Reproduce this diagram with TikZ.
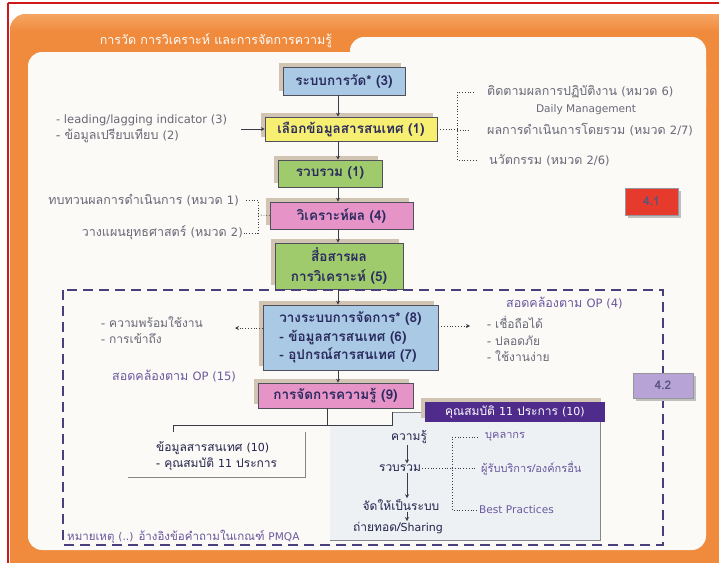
\documentclass[tikz,border=0pt]{standalone}
\usepackage{fontspec}
\setmainfont[Script=Thai]{Loma}
\newfontfamily\latinfont[Scale=0.92]{DejaVu Sans}
\newcommand{\enf}[1]{{\latinfont #1}}
\usetikzlibrary{arrows.meta,shadows,calc}

\definecolor{frameor}{HTML}{F08A3C}
\definecolor{frametop}{HTML}{F5A562}
\definecolor{panelbg}{HTML}{FCFAF6}
\definecolor{redline}{HTML}{D01818}
\definecolor{cblue}{HTML}{A9C9E4}
\definecolor{cyellow}{HTML}{F6EF72}
\definecolor{cgreen}{HTML}{9FCB6C}
\definecolor{cpink}{HTML}{E694C8}
\definecolor{cpurple}{HTML}{4F2C8C}
\definecolor{clav}{HTML}{B8A3D6}
\definecolor{cred}{HTML}{E63B2C}
\definecolor{boxline}{HTML}{50505A}
\definecolor{boxtext}{HTML}{2A2A5E}
\definecolor{shadowc}{HTML}{D2C4B2}
\definecolor{labelc}{HTML}{686878}
\definecolor{oplabel}{HTML}{6A58A0}
\definecolor{dashc}{HTML}{4A3E7C}
\definecolor{linec}{HTML}{3C3C46}
\definecolor{greypanel}{HTML}{EEF1F4}

\begin{document}
\begin{tikzpicture}[x=1pt,y=-1pt,
  box/.style={draw=boxline, line width=0.6pt, text=boxtext,
    font=\bfseries\fontsize{13.5}{18.5}\selectfont, inner sep=2pt,
    drop shadow={shadow xshift=-4pt, shadow yshift=4pt, fill=shadowc, opacity=1}},
  label/.style={text=labelc, font=\fontsize{12.5}{15.5}\selectfont, inner sep=1pt},
  small/.style={text=labelc, font=\fontsize{12}{16.5}\selectfont, inner sep=1pt},
  oplab/.style={text=oplabel, font=\fontsize{12.5}{15}\selectfont, inner sep=1pt},
  panlab/.style={text=oplabel, font=\fontsize{11}{12}\selectfont, inner sep=1pt},
  colt/.style={text=boxtext!80!black, font=\fontsize{12}{15}\selectfont, inner sep=1pt},
  tag/.style={draw=boxline!60, line width=0.4pt, text=boxtext!80,
    font=\bfseries\fontsize{12}{14}\selectfont,
    drop shadow={shadow xshift=3pt, shadow yshift=-3pt, fill=black!25, opacity=1}},
  flow/.style={draw=linec, line width=0.7pt, -{Stealth[length=4pt,width=4pt]}},
  dotl/.style={draw=linec, line width=0.8pt, dotted},
  dotarr/.style={draw=linec, line width=0.8pt, dotted, -{Stealth[length=4pt,width=4pt]}},
  dashbox/.style={draw=dashc, line width=2.2pt, dash pattern=on 10pt off 6pt},
]
\useasboundingbox (0,0) rectangle (719,562);

% ---- frame ----
\fill[white] (0,0) rectangle (719,562);
\begin{scope}
  \clip[rounded corners=16pt] (10,14) rectangle (740,580);
  \fill[frameor] (10,14) rectangle (740,580);
  \shade[top color=frametop, bottom color=frameor] (10,14) rectangle (719,32);
\end{scope}
\fill[panelbg, rounded corners=14pt] (28,52) rectangle (706,550);
\fill[panelbg, rounded corners=14pt] (350,37) rectangle (706,120);
\draw[redline, line width=1.6pt] (8,3) -- (730,3) (8,3) -- (8,570);
\node[text=white, font=\fontsize{12.5}{14}\selectfont] (title) at (216,41) {การวัด การวิเคราะห์ และการจัดการความรู้};

% ---- upper flow ----
\coordinate (spine) at (338,0);
\node[box, fill=cblue, minimum width=122pt, minimum height=28pt] (meas) at (344,81) {ระบบการวัด* (3)};
\node[box, fill=cyellow, minimum width=172pt, minimum height=24pt] (sel) at (351,129) {เลือกข้อมูลสารสนเทศ (1)};
\node[box, fill=cgreen, minimum width=104pt, minimum height=27pt] (gath) at (330,173.5) {รวบรวม (1)};
\node[box, fill=cpink, minimum width=143pt, minimum height=27pt] (anal) at (341.5,215.5) {วิเคราะห์ผล (4)};
\node[box, fill=cgreen, minimum width=128pt, minimum height=46pt, align=center, font=\bfseries\fontsize{13.5}{20}\selectfont] (comm) at (339,266) {สื่อสารผล\\การวิเคราะห์ (5)};

\draw[flow] (meas.south -| spine) -- (sel.north -| spine);
\draw[flow] (sel.south -| spine) -- (gath.north -| spine);
\draw[flow] (gath.south -| spine) -- (anal.north -| spine);
\draw[flow] (anal.south -| spine) -- (comm.north -| spine);

% inputs to the selection step
\node[label, anchor=west, align=left] (lead) at (55,129) {\enf{- leading/lagging indicator (3)}\\- ข้อมูลเปรียบเทียบ \enf{(2)}};
\draw[flow] ([xshift=13pt]lead.east |- sel.west) -- (sel.west);

% outputs of the selection step
\coordinate (brA) at (457,129);
\node[label, anchor=west] (r1) at (486,92) {ติดตามผลการปฏิบัติงาน \enf{(}หมวด \enf{6)}};
\node[label, font=\fontsize{11.5}{13}\selectfont] (r1b) at (586,110) {\enf{Daily Management}};
\node[label, anchor=west] (r2) at (486,130) {ผลการดำเนินการโดยรวม \enf{(}หมวด \enf{2/7)}};
\node[label, anchor=west] (r3) at (488,160) {นวัตกรรม \enf{(}หมวด \enf{2/6)}};
\draw[dotl] (sel.east) -- (brA);
\draw[dotl] ([xshift=-12pt]r1.west) -- (brA |- r1.west) -- (brA |- r3.west) -- ([xshift=-12pt]r3.west);
\draw[dotl] (brA |- r2.west) -- ([xshift=-16pt]r2.west);

% inputs to the analysis step
\coordinate (brB) at (258,215);
\node[label, anchor=east] (l1) at (240,200) {ทบทวนผลการดำเนินการ \enf{(}หมวด \enf{1)}};
\node[label, anchor=east] (l2) at (244,233) {วางแผนยุทธศาสตร์ \enf{(}หมวด \enf{2)}};
\draw[dotl] ([xshift=6pt]l1.east) -- (brB |- l1.east) -- (brB |- l2.east) -- (l2.east);
\draw[dotl] (brB) -- (anal.west);

\node[tag, fill=cred, minimum width=53pt, minimum height=27pt] (t41) at (651.5,201.5) {4.1};

% ---- lower block ----
\draw[dashbox] (63,290) rectangle (663,545);

\node[box, fill=cblue, minimum width=175pt, minimum height=65pt, align=left] (plan) at (350.5,337.5)
  {วางระบบการจัดการ* (8)\\- ข้อมูลสารสนเทศ (6)\\- อุปกรณ์สารสนเทศ (7)};
\node[box, fill=cpink, minimum width=155pt, minimum height=25pt] (km) at (335.5,395.5) {การจัดการความรู้ (9)};
\draw[flow] (comm.south -| spine) -- (plan.north -| spine);
\draw[flow] (plan.south -| spine) -- (km.north -| spine);

\node[small, anchor=west, align=left] (avail) at (100,330) {- ความพร้อมใช้งาน\\- การเข้าถึง};
\coordinate (availtip) at (235,328);
\node[oplab, anchor=west] (op15) at (111,376) {สอดคล้องตาม \enf{OP (15)}};
\draw[dotarr] (plan.west |- availtip) -- (availtip);

\node[oplab, anchor=west] (op4) at (505,303) {สอดคล้องตาม \enf{OP (4)}};
\node[small, anchor=west, align=left] (rel) at (486,339) {- เชื่อถือได้\\- ปลอดภัย\\- ใช้งานง่าย};
\coordinate (reltip) at (470,326);
\draw[dotarr] (plan.east |- reltip) -- (reltip);

\node[tag, fill=clav, minimum width=60pt, minimum height=25pt] (t42) at (663,385.5) {4.2};

% knowledge panel
\fill[greypanel] (330,425) rectangle (600,540);
\fill[greypanel] (392,412) rectangle (600,425);
\draw[boxline!70, line width=0.6pt] (392,412) -- (600,412) -- (600,540) -- (330,540);
\node[fill=cpurple, text=white, font=\fontsize{12}{14}\selectfont, minimum width=180pt, minimum height=20pt,
  drop shadow={shadow xshift=-4pt, shadow yshift=4pt, fill=shadowc, opacity=1}] (q11) at (515,412) {คุณสมบัติ \enf{11} ประการ \enf{(10)}};

\node[colt, anchor=north west, align=left, minimum width=177pt, minimum height=45pt, inner sep=3pt, text depth=0pt,
  font=\fontsize{12}{16}\selectfont] (d10) at (128,432)
  {ข้อมูลสารสนเทศ \enf{(10)}\\- คุณสมบัติ \enf{11} ประการ};
\draw[boxline!70, line width=0.6pt] (d10.north east) -- (d10.south east) -- (d10.south west);

\coordinate (tree) at (327,425);
\draw[linec, line width=0.6pt] (km.south -| tree) -- (tree);
\draw[linec, line width=0.6pt] (d10.north -| 173,0) -- (173,425) -- (392,425) -- (392,412);

\node[colt] (k1) at (409,437) {ความรู้};
\node[colt] (k2) at (400,468) {รวบรวม};
\node[colt] (k3) at (401,505) {จัดให้เป็นระบบ};
\node[colt] (k4) at (398,528) {ถ่ายทอด/\enf{Sharing}};
\draw[flow, line width=0.5pt] (k1.south -| 407,0) -- (k2.north -| 407,0);
\draw[flow, line width=0.5pt] (k2.south -| 407,0) -- (k3.north -| 407,0);
\draw[flow, line width=0.5pt] (k3.south -| 407,0) -- (k4.north -| 407,0);

\coordinate (brC) at (452,468);
\node[panlab, anchor=west] (s1) at (484,437) {บุคลากร};
\node[panlab, anchor=west] (s2) at (480,468) {ผู้รับบริการ/องค์กรอื่น};
\node[panlab, anchor=west, font=\fontsize{11.5}{13}\selectfont] (s3) at (478,510) {\enf{Best Practices}};
\draw[dotl] (k2.east) -- (brC);
\draw[dotl] ([xshift=-6pt]s1.west) -- (brC |- s1.west) -- (brC |- s3.west) -- (s3.west);
\draw[dotl] (brC) -- ([xshift=-4pt]s2.west);

\node[oplab, anchor=west, font=\fontsize{11.5}{14}\selectfont] (note) at (66,537) {หมายเหตุ \enf{(..)} อ้างอิงข้อคำถามในเกณฑ์ \enf{PMQA}};
\end{tikzpicture}
\end{document}
